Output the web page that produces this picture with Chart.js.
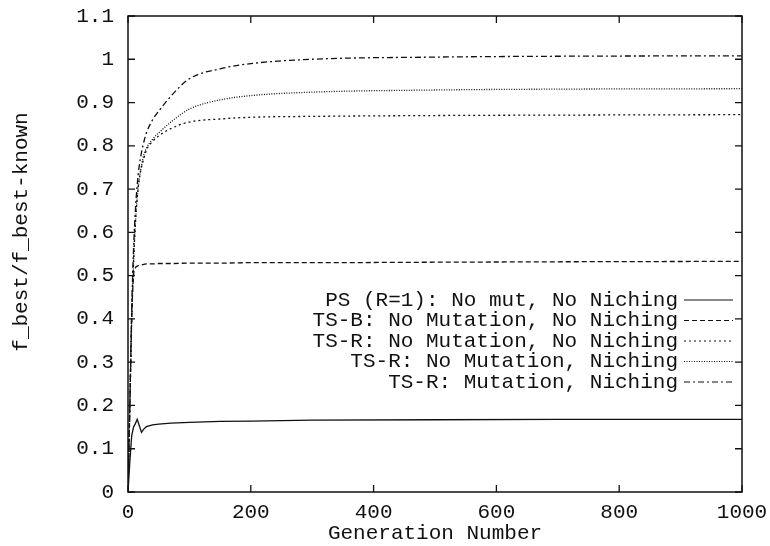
<!DOCTYPE html>
<html>
<head>
<meta charset="utf-8">
<script src="https://cdn.jsdelivr.net/npm/chart.js@4/dist/chart.umd.min.js"></script>
<style>
  html, body { margin: 0; padding: 0; background: #fff; }
  #wrap { width: 770px; height: 546px; }
</style>
</head>
<body>
<div id="wrap"><canvas id="chart" width="770" height="546"></canvas></div>
<script>
const generations = [0, 3, 6, 9, 12, 15, 18, 22, 26, 30, 40, 50, 70, 100, 150, 200, 300, 500, 700, 1000];

const psNoMut = [0, 0.07, 0.13, 0.15, 0.158, 0.168, 0.155, 0.138, 0.146, 0.151, 0.155, 0.157, 0.159, 0.161, 0.163, 0.164, 0.166, 0.167, 0.168, 0.168];
const tsbNoMut = [0, 0.2, 0.4, 0.5, 0.518, 0.522, 0.524, 0.525, 0.526, 0.527, 0.527, 0.528, 0.528, 0.529, 0.529, 0.53, 0.53, 0.531, 0.532, 0.533];
const tsrNoMutNoNiche = [0, 0.2, 0.4, 0.53, 0.62, 0.68, 0.72, 0.75, 0.772, 0.79, 0.81, 0.823, 0.84, 0.855, 0.862, 0.866, 0.868, 0.87, 0.871, 0.872];
const tsrNoMutNiche = [0, 0.2, 0.4, 0.53, 0.62, 0.68, 0.72, 0.755, 0.78, 0.795, 0.815, 0.83, 0.855, 0.885, 0.906, 0.916, 0.924, 0.929, 0.931, 0.932];
const tsrMutNiche = [0, 0.2, 0.42, 0.56, 0.65, 0.71, 0.75, 0.785, 0.81, 0.83, 0.86, 0.88, 0.915, 0.955, 0.978, 0.99, 1.0, 1.005, 1.007, 1.008];

const seriesLabels = [
  "PS (R=1): No mut, No Niching",
  "TS-B: No Mutation, No Niching",
  "TS-R: No Mutation, No Niching",
  "TS-R: No Mutation, Niching",
  "TS-R: Mutation, Niching"
];
const seriesValues = [psNoMut, tsbNoMut, tsrNoMutNoNiche, tsrNoMutNiche, tsrMutNiche];
const seriesDashes = [[], [5, 3], [2, 3], [1, 1.5], [6, 3, 2, 3]];

const xTicks = [0, 200, 400, 600, 800, 1000];
const yTicks = [0, 0.1, 0.2, 0.3, 0.4, 0.5, 0.6, 0.7, 0.8, 0.9, 1, 1.1];

const FONT = "'Liberation Mono', 'Courier New', monospace";
const INK = '#111';

const datasets = seriesLabels.map((label, i) => ({
  label: label,
  data: generations.map((g, j) => ({ x: g, y: seriesValues[i][j] })),
  borderColor: INK,
  borderWidth: 1.3,
  borderDash: seriesDashes[i],
  pointRadius: 0,
  fill: false,
  cubicInterpolationMode: i === 0 ? 'default' : 'monotone',
  tension: 0
}));

// gnuplot style frame, inward ticks, key and y title
const framePlugin = {
  id: 'frame',
  afterDatasetsDraw(chart) {
    const ctx = chart.ctx;
    const a = chart.chartArea;
    const xs = chart.scales.x, ys = chart.scales.y;
    ctx.save();
    ctx.strokeStyle = INK;
    ctx.lineWidth = 1.5;
    ctx.setLineDash([]);
    ctx.strokeRect(a.left, a.top, a.right - a.left, a.bottom - a.top);
    ctx.lineWidth = 1.3;
    ctx.beginPath();
    yTicks.forEach(v => {
      const p = ys.getPixelForValue(v);
      ctx.moveTo(a.left, p); ctx.lineTo(a.left + 7, p);
      ctx.moveTo(a.right, p); ctx.lineTo(a.right - 7, p);
    });
    xTicks.forEach(v => {
      const p = xs.getPixelForValue(v);
      ctx.moveTo(p, a.bottom); ctx.lineTo(p, a.bottom - 7);
      ctx.moveTo(p, a.top); ctx.lineTo(p, a.top + 7);
    });
    ctx.stroke();

    // key
    ctx.font = '21px ' + FONT;
    ctx.fillStyle = INK;
    ctx.textAlign = 'right';
    ctx.textBaseline = 'middle';
    chart.data.datasets.forEach((ds, i) => {
      const y = 300 + i * 20.5;
      ctx.fillText(ds.label, 678, y);
      ctx.setLineDash(ds.borderDash);
      ctx.lineWidth = 1.2;
      ctx.beginPath();
      ctx.moveTo(684, y);
      ctx.lineTo(733, y);
      ctx.stroke();
    });
    ctx.setLineDash([]);

    // y title
    ctx.translate(21, 232);
    ctx.rotate(-Math.PI / 2);
    ctx.textAlign = 'center';
    ctx.fillText('f_best/f_best-known', 0, 0);
    ctx.restore();
  }
};

new Chart(document.getElementById('chart'), {
  type: 'line',
  data: { datasets: datasets },
  options: {
    responsive: false,
    animation: false,
    layout: { padding: { top: 16, right: 28, left: 0, bottom: 0 } },
    plugins: { legend: { display: false }, tooltip: { enabled: false } },
    scales: {
      x: {
        type: 'linear',
        min: 0,
        max: 1000,
        afterBuildTicks: s => { s.ticks = xTicks.map(v => ({ value: v })); },
        afterFit: s => { s.height = 54; s.paddingLeft = 0; s.paddingRight = 0; },
        grid: { display: false, drawTicks: false },
        border: { display: false },
        ticks: { color: INK, font: { family: FONT, size: 21 }, padding: 8, maxRotation: 0, callback: v => String(v) },
        title: { display: true, text: 'Generation Number', color: INK, font: { family: FONT, size: 21 }, padding: { top: -4, bottom: 0 } }
      },
      y: {
        min: 0,
        max: 1.1,
        afterBuildTicks: s => { s.ticks = yTicks.map(v => ({ value: v })); },
        afterFit: s => { s.width = 128; s.paddingTop = 0; s.paddingBottom = 0; },
        grid: { display: false, drawTicks: false },
        border: { display: false },
        ticks: {
          color: INK,
          font: { family: FONT, size: 21 },
          padding: 14,
          callback: v => String(Math.round(v * 10) / 10)
        }
      }
    }
  },
  plugins: [framePlugin]
});
</script>
</body>
</html>
